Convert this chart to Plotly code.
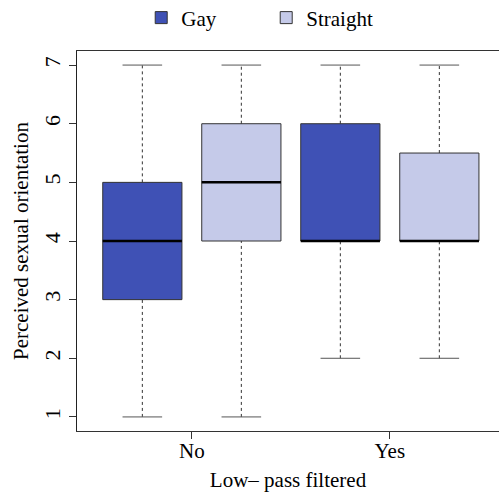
import plotly.graph_objects as go

# Data
groups = ["No", "No", "Yes", "Yes"]
orientation = ["Gay", "Straight", "Gay", "Straight"]
lower = [1, 1, 2, 2]
q1 = [3, 4, 4, 4]
median = [4, 5, 4, 4]
q3 = [5, 6, 6, 5.5]
upper = [7, 7, 7, 7]
group_labels = ["No", "Yes"]
y_ticks = [1, 2, 3, 4, 5, 6, 7]

colors = {"Gay": "#3F51B5", "Straight": "#C5CAE9"}
FONT = "Liberation Serif"
FS = 21


def fnt(size=FS):
    return dict(family=FONT, size=size, color="black")


pos = [i + 1 for i in range(len(groups))]
box_w = 0.8
cap_w = 0.4

fig = go.Figure()

# whiskers (dashed)
wx, wy = [], []
for p, lo, a, b, hi in zip(pos, lower, q1, q3, upper):
    wx += [p, p, None, p, p, None]
    wy += [lo, a, None, b, hi, None]
fig.add_trace(go.Scatter(x=wx, y=wy, mode="lines", showlegend=False, hoverinfo="skip",
                         line=dict(color="#333333", width=1, dash="3px,3px")))
# caps
cx, cy = [], []
for p, lo, hi in zip(pos, lower, upper):
    cx += [p - cap_w / 2, p + cap_w / 2, None, p - cap_w / 2, p + cap_w / 2, None]
    cy += [lo, lo, None, hi, hi, None]
fig.add_trace(go.Scatter(x=cx, y=cy, mode="lines", showlegend=False, hoverinfo="skip",
                         line=dict(color="#555555", width=1)))

# boxes
for name in ["Gay", "Straight"]:
    idx = [i for i, o in enumerate(orientation) if o == name]
    fig.add_trace(go.Bar(
        x=[pos[i] for i in idx],
        y=[q3[i] - q1[i] for i in idx],
        base=[q1[i] for i in idx],
        width=box_w,
        name=name,
        marker=dict(color=colors[name], line=dict(color="#333333", width=1)),
    ))

# medians
mx, my = [], []
for p, m in zip(pos, median):
    mx += [p - box_w / 2, p + box_w / 2, None]
    my += [m, m, None]
fig.add_trace(go.Scatter(x=mx, y=my, mode="lines", showlegend=False, hoverinfo="skip",
                         line=dict(color="black", width=2.5)))

tick_pos = []
for g in group_labels:
    ps = [p for p, gg in zip(pos, groups) if gg == g]
    tick_pos.append(sum(ps) / len(ps))

fig.update_layout(
    template="none",
    width=499, height=499,
    margin=dict(l=77, r=0, t=51, b=68),
    plot_bgcolor="white", paper_bgcolor="white",
    font=fnt(),
    barmode="overlay",
    showlegend=True,
    legend=dict(orientation="h", xref="container", yref="container",
                x=0.283, xanchor="left", y=0.964, yanchor="middle",
                entrywidth=80, font=fnt(), bgcolor="rgba(0,0,0,0)"),
    xaxis=dict(range=[0.34, 4.6026], tickvals=tick_pos, ticktext=group_labels,
               ticks="outside", ticklen=7, tickcolor="#333333", tickfont=fnt(),
               ticklabelstandoff=-6,
               showline=True, linecolor="#333333", linewidth=1, mirror=True,
               showgrid=False, zeroline=False,
               title=dict(text="Low\u2013 pass filtered", standoff=10, font=fnt())),
    yaxis=dict(range=[0.76, 7.24], tickvals=y_ticks, tickangle=-90,
               ticks="outside", ticklen=7, tickcolor="#333333", tickfont=fnt(22),
               showline=True, linecolor="#222222", linewidth=1,
               showgrid=False, zeroline=False,
               title=dict(text="Perceived sexual orientation", standoff=5, font=fnt())),
)

fig.write_html("out.html")
